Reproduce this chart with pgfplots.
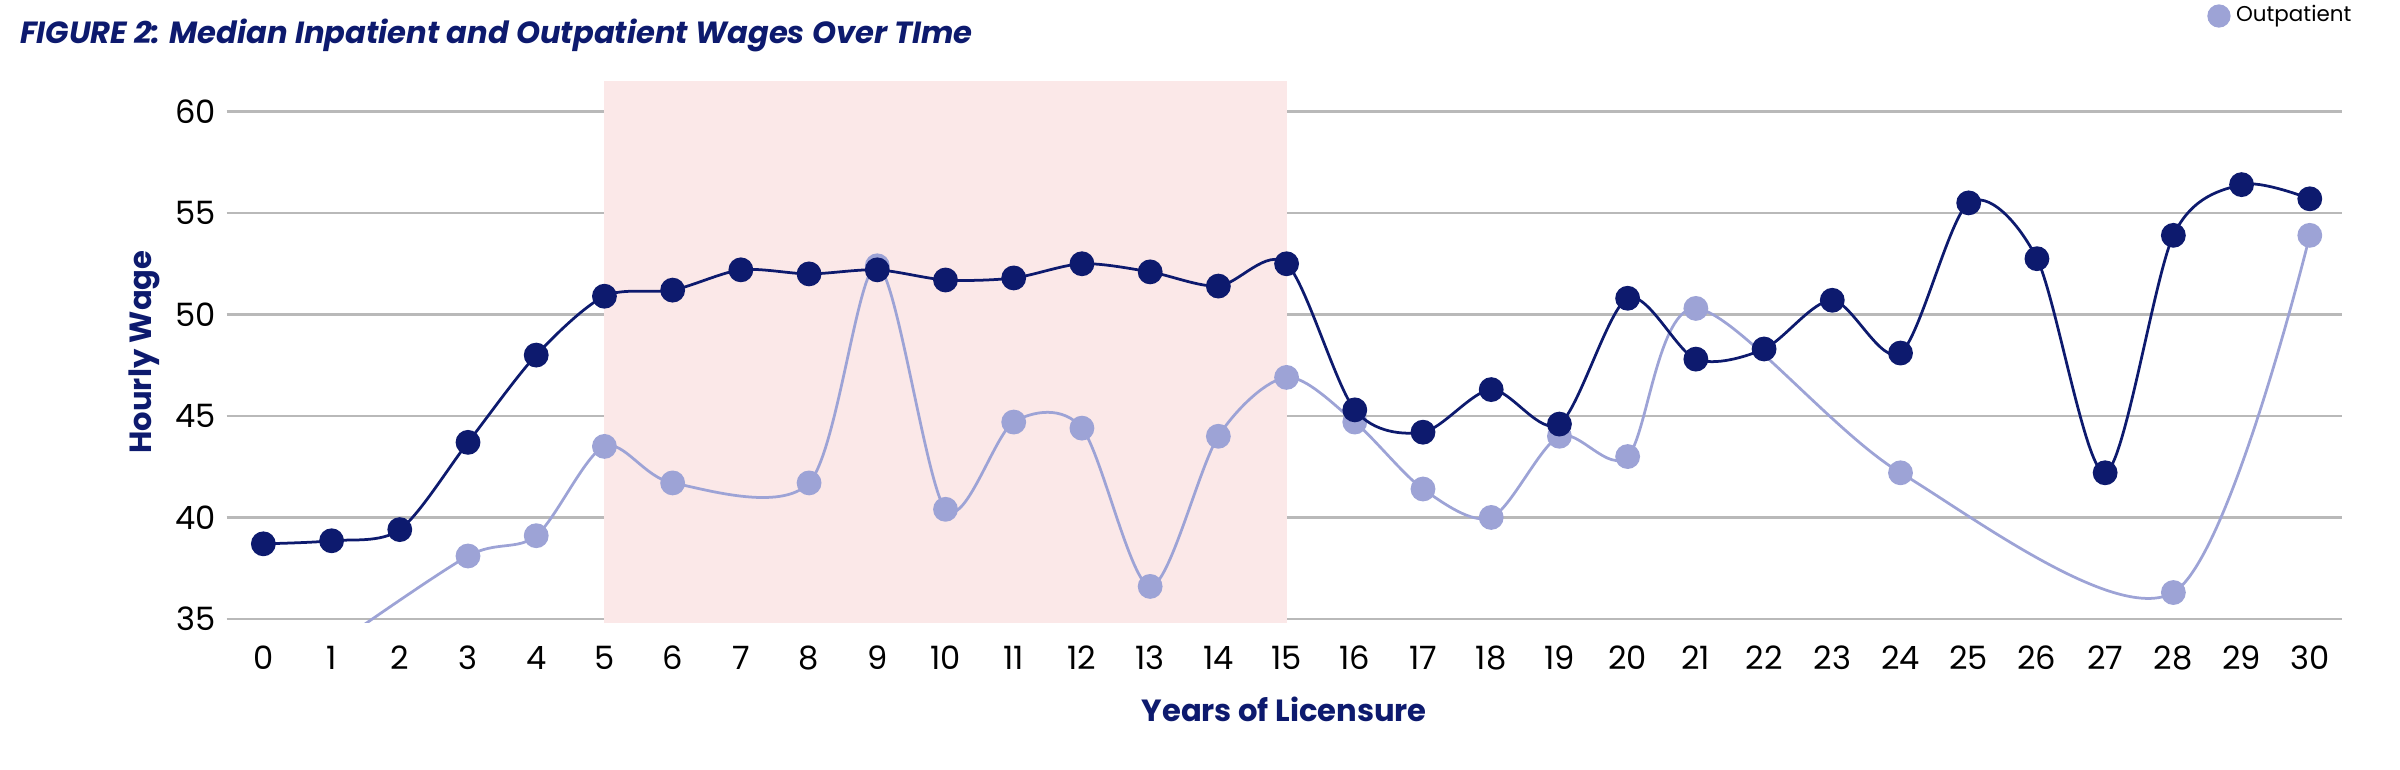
\documentclass[border=0pt]{standalone}
\usepackage{pgfplots}
\pgfplotsset{compat=1.18}
\usepackage{fontspec}
\setmainfont{Poppins}
\definecolor{navy}{HTML}{0D1A6E}
\definecolor{lite}{HTML}{9DA3D6}
\definecolor{shade}{HTML}{FBE8E8}
\begin{document}
\begin{tikzpicture}
\path[use as bounding box] (0,0) rectangle (784pt,251.5pt);
\node[anchor=west,text=navy,font=\fontsize{10}{12}\selectfont\bfseries\itshape] at (3pt,240pt) {FIGURE 2: Median Inpatient and Outpatient Wages Over TIme};
\begin{axis}[at={(74pt,48pt)},anchor=south west,scale only axis,width=691pt,height=177pt,
 xmin=-0.54,xmax=30.47,ymin=34.8,ymax=61.5,
 axis line style={draw=none},tick style={draw=none},
 ymajorgrids,grid style={gray!55,line width=0.9pt},
 ytick={35,40,...,60},xtick={0,...,30},
 ticklabel style={font=\fontsize{10.5}{12}\selectfont},
 xticklabel style={yshift=-4pt},
 /pgf/number format/assume math mode=true,
 xlabel={\bfseries Years of Licensure},ylabel={\bfseries Hourly Wage},
 label style={text=navy,font=\fontsize{10}{12}\selectfont},
 xlabel style={yshift=-2pt},ylabel style={yshift=-2pt},
 clip mode=individual,
 legend style={at={(1.012,1.23)},anchor=north east,draw=none,fill=none,font=\fontsize{7}{8}\selectfont,row sep=1pt},
 legend cell align=left]
\fill[fill=shade] (axis cs:5,34.8) rectangle (axis cs:15,61.5);
\addplot[lite,line width=0.9pt,smooth,tension=0.5,mark=*,mark size=3.6pt,mark options={fill=lite,draw=lite},forget plot] coordinates {
(1,33.6)(3,38.1)(4,39.1)(5,43.5)(6,41.7)(8,41.7)(9,52.4)(10,40.4)(11,44.7)(12,44.4)(13,36.6)(14,44.0)(15,46.9)(16,44.7)(17,41.4)(18,40.0)(19,44.0)(20,43.0)(21,50.3)(24,42.2)(28,36.3)(30,53.9)};
\addplot[navy,line width=0.9pt,smooth,tension=0.5,mark=*,mark size=3.6pt,mark options={fill=navy,draw=navy},forget plot] coordinates {
(0,38.7)(1,38.85)(2,39.4)(3,43.7)(4,48.0)(5,50.9)(6,51.2)(7,52.2)(8,52.0)(9,52.2)(10,51.7)(11,51.8)(12,52.5)(13,52.1)(14,51.4)(15,52.5)(16,45.3)(17,44.2)(18,46.3)(19,44.6)(20,50.8)(21,47.8)(22,48.3)(23,50.7)(24,48.1)(25,55.5)(26,52.75)(27,42.2)(28,53.9)(29,56.4)(30,55.7)};
\addlegendimage{only marks,mark=*,mark size=3.6pt,navy}
\addlegendentry{Inpatient}
\addlegendimage{only marks,mark=*,mark size=3.6pt,lite}
\addlegendentry{Outpatient}
\end{axis}
\end{tikzpicture}
\end{document}
